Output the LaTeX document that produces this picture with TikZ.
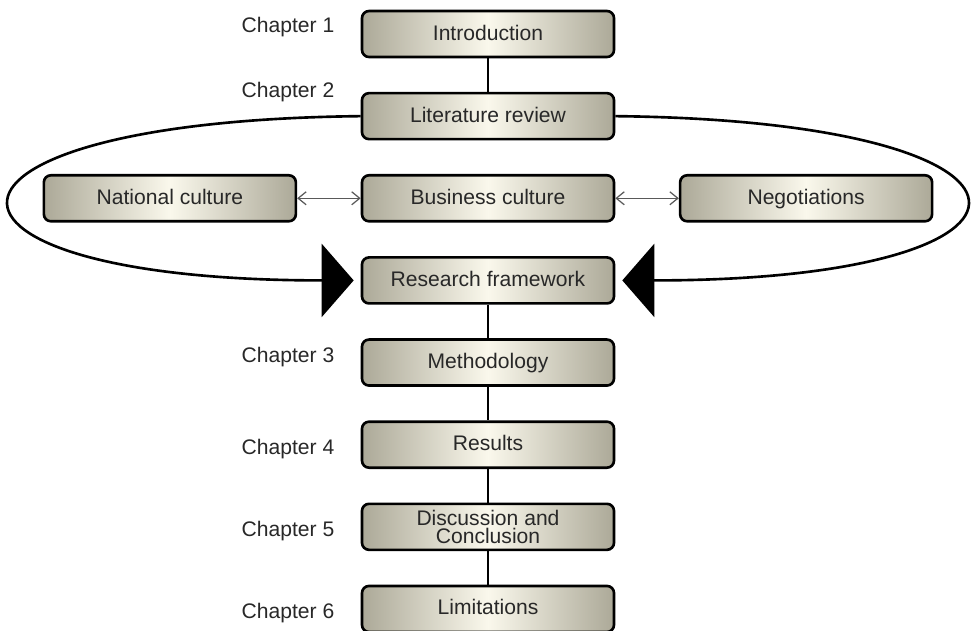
\documentclass[tikz,border=0pt]{standalone}
\usepackage{fontspec}
\setmainfont{Liberation Sans}
\usetikzlibrary{arrows.meta, positioning}
\usepackage{xcolor}
\definecolor{boxEdge}{RGB}{172,169,152}
\definecolor{boxMid}{RGB}{250,248,236}
\definecolor{textGray}{RGB}{40,40,40}

\begin{document}
\begin{tikzpicture}[
    node distance=0.67cm and 1.27cm,
    box2/.style={rectangle, draw, line width=1.5pt, rounded corners=4pt, minimum width=5.04cm, minimum height=0.92cm, inner sep=1pt, align=center, text=textGray, font=\fontsize{12}{10.5}\selectfont, text height=1.6ex, text depth=0.3ex, left color=boxEdge, right color=boxEdge, middle color=boxMid},
    chap/.style={text=textGray, font=\fontsize{12}{14}\selectfont, inner sep=0pt},
    link/.style={line width=1.4pt},
    twoway/.style={draw=black!65, line width=0.7pt, {Straight Barb[length=1.6mm,width=2.6mm]}-{Straight Barb[length=1.6mm,width=2.6mm]}},
    loop/.style={line width=1.5pt, -{Triangle[length=0.64cm,width=1.46cm]}, shorten >=0.14cm},
    >=Latex
]
\useasboundingbox (0,0) rectangle (19.42,-12.6);

\node[box2] (intro) at (9.76,-0.68) {Introduction};
\node[box2, below=of intro] (litrev) {Literature review};
\node[box2, below=of litrev] (busi) {Business culture};
\node[box2, left=of busi] (natcult) {National culture};
\node[box2, right=of busi] (nego) {Negotiations};
\node[box2, below=of busi] (frame) {Research framework};
\node[box2, below=of frame] (method) {Methodology};
\node[box2, below=of method] (results) {Results};
\node[box2, below=of results, text height={}, text depth={}] (discuss) {Discussion and\\Conclusion};
\node[box2, below=of discuss] (limits) {Limitations};

\node[chap, left=0.52cm of intro, yshift=0.14cm] (ch1) {Chapter 1};
\node[chap, left=0.52cm of litrev.north west] (ch2) {Chapter 2};
\node[chap, left=0.52cm of method, yshift=0.12cm] (ch3) {Chapter 3};
\node[chap, left=0.52cm of results, yshift=-0.08cm] (ch4) {Chapter 4};
\node[chap, left=0.52cm of discuss, yshift=-0.08cm] (ch5) {Chapter 5};
\node[chap, left=0.52cm of limits, yshift=-0.08cm] (ch6) {Chapter 6};

\draw[link] (intro) -- (litrev);
\draw[link] (frame) -- (method);
\draw[link] (method) -- (results);
\draw[link] (results) -- (discuss);
\draw[link] (discuss) -- (limits);

\draw[twoway] (natcult) -- (busi);
\draw[twoway] (busi) -- (nego);

% loops from the literature review back into the framework
\draw[loop] (litrev.west) .. controls +(-9.3,-0.1) and +(-9.3,0) .. (frame.west);
\draw[loop] (litrev.east) .. controls +(9.3,-0.1) and +(9.3,0) .. (frame.east);
\end{tikzpicture}
\end{document}
